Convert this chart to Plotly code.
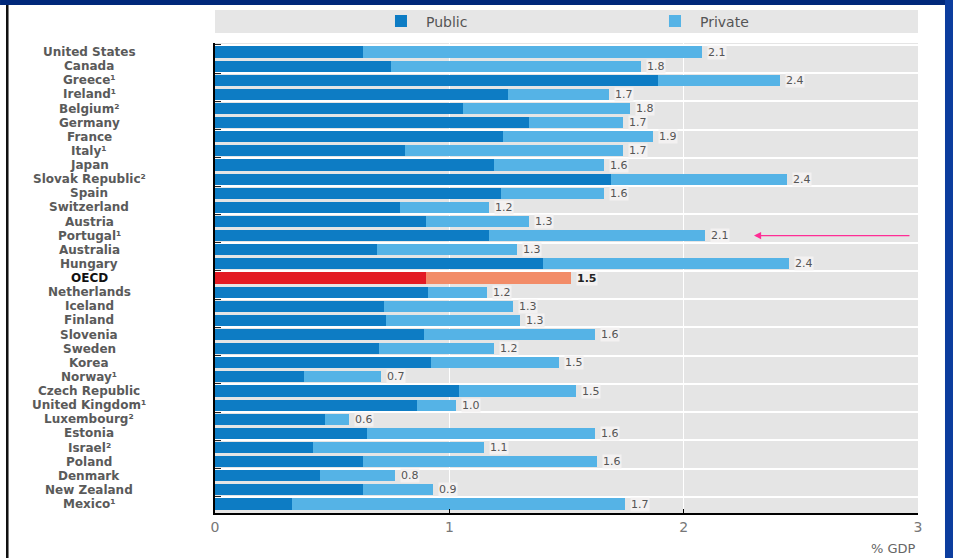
import plotly.graph_objects as go

countries = ["United States", "Canada", "Greece¹", "Ireland¹", "Belgium²", "Germany", "France",
             "Italy¹", "Japan", "Slovak Republic²", "Spain", "Switzerland", "Austria", "Portugal¹",
             "Australia", "Hungary", "OECD", "Netherlands", "Iceland", "Finland", "Slovenia",
             "Sweden", "Korea", "Norway¹", "Czech Republic", "United Kingdom¹", "Luxembourg²",
             "Estonia", "Israel²", "Poland", "Denmark", "New Zealand", "Mexico¹"]

public = [0.63, 0.75, 1.89, 1.25, 1.06, 1.34, 1.23, 0.81, 1.19, 1.69, 1.22, 0.79, 0.90, 1.17,
          0.69, 1.40, 0.90, 0.91, 0.72, 0.73, 0.89, 0.70, 0.92, 0.38, 1.04, 0.86, 0.47,
          0.65, 0.42, 0.63, 0.45, 0.63, 0.33]

private = [1.45, 1.07, 0.52, 0.43, 0.71, 0.40, 0.64, 0.93, 0.47, 0.75, 0.44, 0.38, 0.44, 0.92,
           0.60, 1.05, 0.62, 0.25, 0.55, 0.57, 0.73, 0.49, 0.55, 0.33, 0.50, 0.17, 0.10,
           0.97, 0.73, 1.00, 0.32, 0.30, 1.42]

total_labels = ["2.1", "1.8", "2.4", "1.7", "1.8", "1.7", "1.9", "1.7", "1.6", "2.4", "1.6", "1.2",
                "1.3", "2.1", "1.3", "2.4", "1.5", "1.2", "1.3", "1.3", "1.6", "1.2", "1.5", "0.7",
                "1.5", "1.0", "0.6", "1.6", "1.1", "1.6", "0.8", "0.9", "1.7"]

x_ticks = [0, 1, 2, 3]

PUB, PRI = "#0d7cc4", "#55b3e6"
OECD_PUB, OECD_PRI = "#e31b23", "#f28c68"
FONT = "DejaVu Sans"

pub_colors = [OECD_PUB if c == "OECD" else PUB for c in countries]
pri_colors = [OECD_PRI if c == "OECD" else PRI for c in countries]

fig = go.Figure()
fig.add_trace(go.Bar(y=countries, x=public, orientation="h", name="Public",
                     marker=dict(color=pub_colors, line=dict(width=0))))
fig.add_trace(go.Bar(y=countries, x=private, orientation="h", name="Private",
                     marker=dict(color=pri_colors, line=dict(width=0))))

annotations = []
for c, p, q, lab in zip(countries, public, private, total_labels):
    is_oecd = c == "OECD"
    annotations.append(dict(
        x=p + q, y=c, xref="x", yref="y", text=f"<b>{lab}</b>" if is_oecd else lab,
        showarrow=False, xanchor="left", xshift=5,
        font=dict(family=FONT, size=11, color="#222" if is_oecd else "#555"),
        bgcolor="rgba(244,242,242,0.9)", borderpad=0))
    annotations.append(dict(
        x=-0.179, y=c, xref="paper", yref="y", text=f"<b>{c}</b>",
        showarrow=False, xanchor="center",
        font=dict(family=FONT, size=12, color="#111" if is_oecd else "#5a5a5a")))

annotations.append(dict(x=1, y=-0.0745, xref="paper", yref="paper", text="% GDP",
                        showarrow=False, xanchor="right", yanchor="middle",
                        font=dict(family=FONT, size=13, color="#666")))
annotations.append(dict(x=2.30, y="Portugal¹", xref="x", yref="y", text="",
                        showarrow=True, axref="x", ax=2.97, ayref="pixel", ay=0,
                        arrowhead=2, arrowsize=1.1, arrowwidth=1.3, arrowcolor="#ff2d95"))

shapes = [
    dict(type="rect", xref="paper", yref="paper", x0=0, x1=1, y0=1.0213, y1=1.070,
         fillcolor="#e6e6e6", line=dict(width=0), layer="below"),
    dict(type="rect", xref="paper", yref="paper", x0=-0.3058, x1=1.0498, y0=1.0809, y1=1.0915,
         fillcolor="#00287a", line=dict(width=0)),
    dict(type="rect", xref="paper", yref="paper", x0=1.0384, x1=1.0498, y0=-0.0957, y1=1.0915,
         fillcolor="#0c3d9e", line=dict(width=0)),
    dict(type="rect", xref="paper", yref="paper", x0=-0.2973, x1=-0.2937, y0=-0.0957, y1=1.0809,
         fillcolor="#111111", line=dict(width=0)),
]

fig.update_layout(
    width=953, height=558,
    margin=dict(l=215, r=35, t=43, b=45, autoexpand=False),
    barmode="stack", bargap=0.22,
    plot_bgcolor="#e5e5e5", paper_bgcolor="white",
    font=dict(family=FONT, color="#555"),
    showlegend=True,
    legend=dict(orientation="h", x=0.229, xanchor="left", y=1.0457, yanchor="middle",
                traceorder="normal",
                bgcolor="rgba(0,0,0,0)", font=dict(family=FONT, size=14, color="#555"),
                entrywidth=219, entrywidthmode="pixels", itemwidth=40),
    xaxis=dict(range=[0, 3], tickvals=x_ticks, ticktext=[str(t) for t in x_ticks],
               showgrid=True, gridcolor="white", gridwidth=1, zeroline=False,
               showline=True, linecolor="black", linewidth=2,
               ticks="inside", ticklen=4, tickcolor="black",
               tickfont=dict(family=FONT, size=14, color="#777")),
    yaxis=dict(autorange="reversed", showticklabels=False, tickson="boundaries",
               ticks="inside", ticklen=6, tickcolor="#222",
               showgrid=True, gridcolor="white", gridwidth=2,
               showline=True, linecolor="black", linewidth=2),
    annotations=annotations, shapes=shapes,
)

fig.write_html("out.html", config={"displayModeBar": False},
               post_script="document.body.style.margin='0';document.body.style.overflow='hidden';")
